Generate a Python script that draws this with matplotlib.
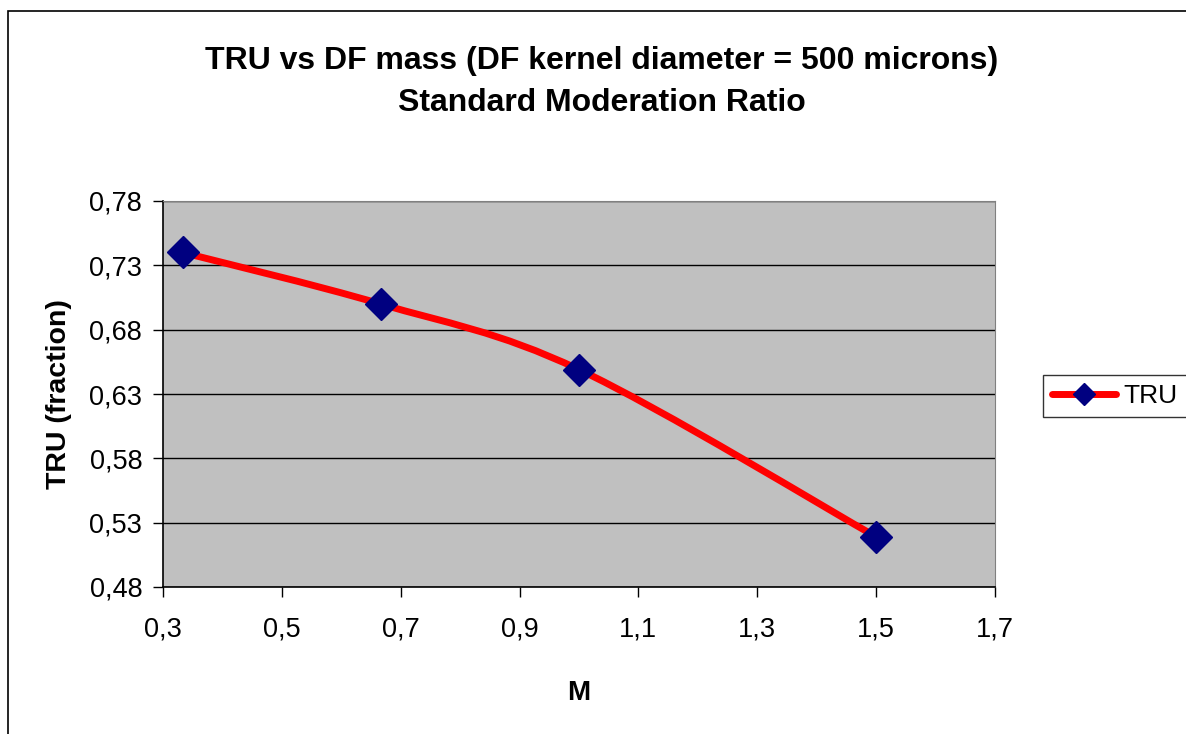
import matplotlib
matplotlib.use("Agg")
import matplotlib.pyplot as plt
from matplotlib.path import Path
from matplotlib.patches import PathPatch, Rectangle
from matplotlib.lines import Line2D
from matplotlib.ticker import FuncFormatter

# data
m_values = [0.333, 0.666, 1.0, 1.5]
tru_values = [0.740, 0.700, 0.649, 0.519]

title = "TRU vs DF mass (DF kernel diameter = 500 microns)\nStandard Moderation Ratio"
x_label = "M"
y_label = "TRU (fraction)"
series_name = "TRU"
x_ticks = [0.3, 0.5, 0.7, 0.9, 1.1, 1.3, 1.5, 1.7]
y_ticks = [0.48, 0.53, 0.58, 0.63, 0.68, 0.73, 0.78]

plt.rcParams["font.family"] = ["Liberation Sans", "DejaVu Sans"]

fig = plt.figure(figsize=(11.86, 7.34), dpi=100)
fig.patch.set_facecolor("white")

# outer chart-area border (runs off the right and bottom of the image)
fig.add_artist(Rectangle((8 / 1186, -0.05), 1.2, 1 - 11 / 734 + 0.05,
                         transform=fig.transFigure, fill=False,
                         edgecolor="black", linewidth=1.2))

ax = fig.add_axes([163 / 1186, 1 - 587 / 734, (995 - 163) / 1186, (587 - 201) / 734])
ax.set_facecolor("#C0C0C0")
ax.set_xlim(0.3, 1.7)
ax.set_ylim(0.48, 0.78)
ax.set_xticks(x_ticks)
ax.set_yticks(y_ticks)

comma = lambda fmt: FuncFormatter(lambda v, p: (fmt % v).replace(".", ","))
ax.xaxis.set_major_formatter(comma("%.1f"))
ax.yaxis.set_major_formatter(comma("%.2f"))
ax.tick_params(axis="both", direction="out", length=7, width=1, colors="black",
               labelsize=19.5, pad=8)
ax.tick_params(axis="x", pad=14)

ax.grid(axis="y", color="black", linewidth=1)
ax.set_axisbelow(True)
for side in ["top", "right"]:
    ax.spines[side].set_color("#808080")
for side in ["left", "bottom"]:
    ax.spines[side].set_color("black")
    ax.spines[side].set_linewidth(1.2)

# smoothed line (Excel style cubic Bezier through the points)
verts = [(m_values[0], tru_values[0])]
codes = [Path.MOVETO]
n = len(m_values)
for i in range(n - 1):
    x0, y0 = m_values[max(i - 1, 0)], tru_values[max(i - 1, 0)]
    x1, y1 = m_values[i], tru_values[i]
    x2, y2 = m_values[i + 1], tru_values[i + 1]
    x3, y3 = m_values[min(i + 2, n - 1)], tru_values[min(i + 2, n - 1)]
    c1 = (x1 + (x2 - x0) / 6, y1 + (y2 - y0) / 6)
    c2 = (x2 - (x3 - x1) / 6, y2 - (y3 - y1) / 6)
    verts += [c1, c2, (x2, y2)]
    codes += [Path.CURVE4] * 3
ax.add_patch(PathPatch(Path(verts, codes), facecolor="none", edgecolor="red",
                       linewidth=5, capstyle="round", zorder=3))
ax.plot(m_values, tru_values, linestyle="none", marker="D", markersize=16,
        markerfacecolor="#000080", markeredgecolor="#000080", zorder=4)

ax.set_xlabel(x_label, fontsize=20, fontweight="bold", labelpad=27)
ax.set_ylabel(y_label, fontsize=20.5, fontweight="bold", labelpad=12)

fig.text(602 / 1186, 1 - 82 / 734, title, ha="center", va="center",
         fontsize=23, fontweight="bold", linespacing=1.5)

handle = Line2D([], [], color="red", linewidth=5, marker="D", markersize=11,
                markerfacecolor="#000080", markeredgecolor="#000080",
                solid_capstyle="round")
leg = fig.legend([handle], [series_name], loc="center left",
                 bbox_to_anchor=(1043 / 1186, 1 - 396 / 734), fontsize=19,
                 frameon=True, fancybox=False, handlelength=2.4,
                 borderpad=0.35, handletextpad=0.3, borderaxespad=0)
leg.get_frame().set_edgecolor("black")
leg.get_frame().set_linewidth(1)

fig.savefig("out.png", dpi=100)
